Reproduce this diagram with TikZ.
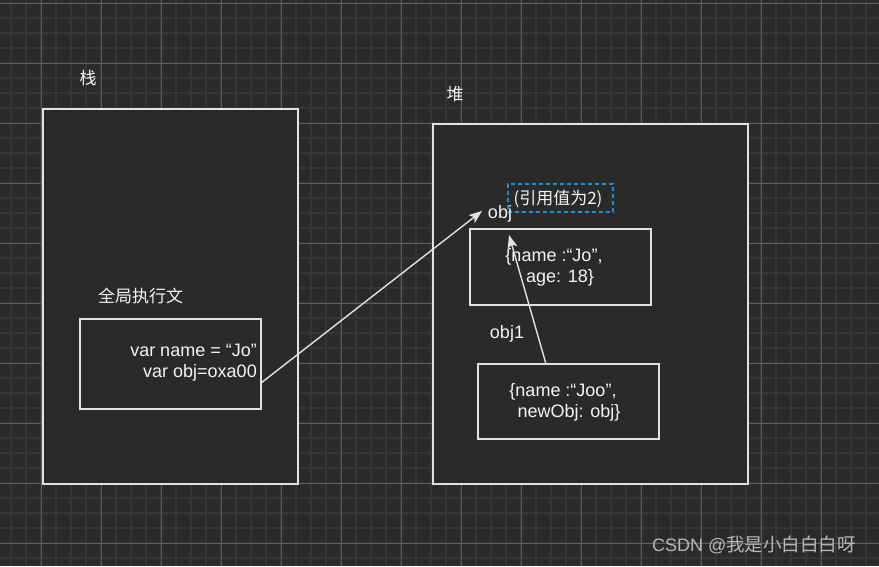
\documentclass[tikz,border=0pt]{standalone}
\usepackage{fontspec}
\setmainfont{Liberation Sans}
\newfontfamily\cjk{Noto Sans CJK SC}
\usetikzlibrary{arrows.meta}
\definecolor{bg}{HTML}{2A2A2A}
\definecolor{gminor}{HTML}{363636}
\definecolor{gmajor}{HTML}{5E5E5E}
\definecolor{edge}{HTML}{E2E2E2}
\definecolor{ink}{HTML}{F4F4F4}
\definecolor{selblue}{HTML}{1A8FD6}
\definecolor{mark}{HTML}{B8B8B8}
\tikzset{
  minorline/.style={gminor, line width=1.3pt},
  majorline/.style={gmajor, line width=0.8pt},
  box/.style={draw=edge, fill=bg, line width=1.4pt, inner sep=0pt, outer sep=0pt},
  txt/.style={text=ink, inner sep=0pt, font=\fontsize{18}{21}\selectfont},
  cjktxt/.style={text=ink, inner sep=0pt, font=\cjk\fontsize{17}{21}\selectfont},
  arr/.style={draw=edge, line width=1.4pt, -{Stealth[length=13pt,width=10pt,inset=3pt]}},
  selbox/.style={draw=selblue, line width=1.6pt, dash pattern=on 4pt off 3pt, inner sep=0pt,
    minimum width=105pt, minimum height=28pt}
}
\begin{document}
\begin{tikzpicture}[x=1pt,y=-1pt]
\fill[bg] (0,0) rectangle (879,566);
\useasboundingbox (0,0) rectangle (879,566);
% grid
\foreach \x in {11,26,...,879} \draw[minorline] (\x,0) -- (\x,566);
\foreach \y in {3,18,...,566} \draw[minorline] (0,\y) -- (879,\y);
\foreach \x in {41,101,...,879} \draw[majorline] (\x,0) -- (\x,566);
\foreach \y in {3,63,...,566} \draw[majorline] (0,\y) -- (879,\y);

% stack
\node[box, minimum width=255pt, minimum height=375pt] (stack) at (170.5,296.5) {};
\node[cjktxt] (stacklbl) at (88,78) {栈};
\node[cjktxt] (ctxlbl) at (140.5,296) {全局执行文};
\node[box, minimum width=181pt, minimum height=90pt] (var) at (170.5,364) {};
\node[txt, align=right, anchor=north east] (vartxt) at (257,344) {var name = “Jo”\\var obj=oxa00};

% heap
\node[box, minimum width=315pt, minimum height=360pt] (heap) at (590.5,304) {};
\node[cjktxt] (heaplbl) at (455,94) {堆};
\node[box, minimum width=181pt, minimum height=76pt] (h1) at (560.5,267) {};
\node[txt, align=center] (h1txt) at (554,267) {\{name :“Jo”,\\\hspace{12pt}age: 18\}};
\node[box, minimum width=181pt, minimum height=75pt] (h2) at (568.5,401.5) {};
\node[txt, align=center] (h2txt) at (563,402) {\{name :“Joo”,\\\hspace{12pt}newObj: obj\}};

\node[selbox] (sel) at (560.5,198) {};
\node[cjktxt] (ref) at (558,199) {(引用值为2)};
\node[txt] (objlbl) at (500,214) {obj};
\node[txt] (obj1lbl) at (507,334) {obj1};

% connectors
\coordinate (tipA) at (482,211);
\coordinate (tipB) at (509,235);
\draw[arr] ([yshift=-19pt]var.east) -- (tipA);
\draw[arr] ([xshift=-22.5pt]h2.north) -- (tipB);

% watermark
\node[text=mark, inner sep=0pt, anchor=west] (wm) at (652,545) {\fontsize{18}{20}\selectfont CSDN @\cjk\fontsize{18.5}{20}\selectfont 我是小白白白呀};
\end{tikzpicture}
\end{document}
